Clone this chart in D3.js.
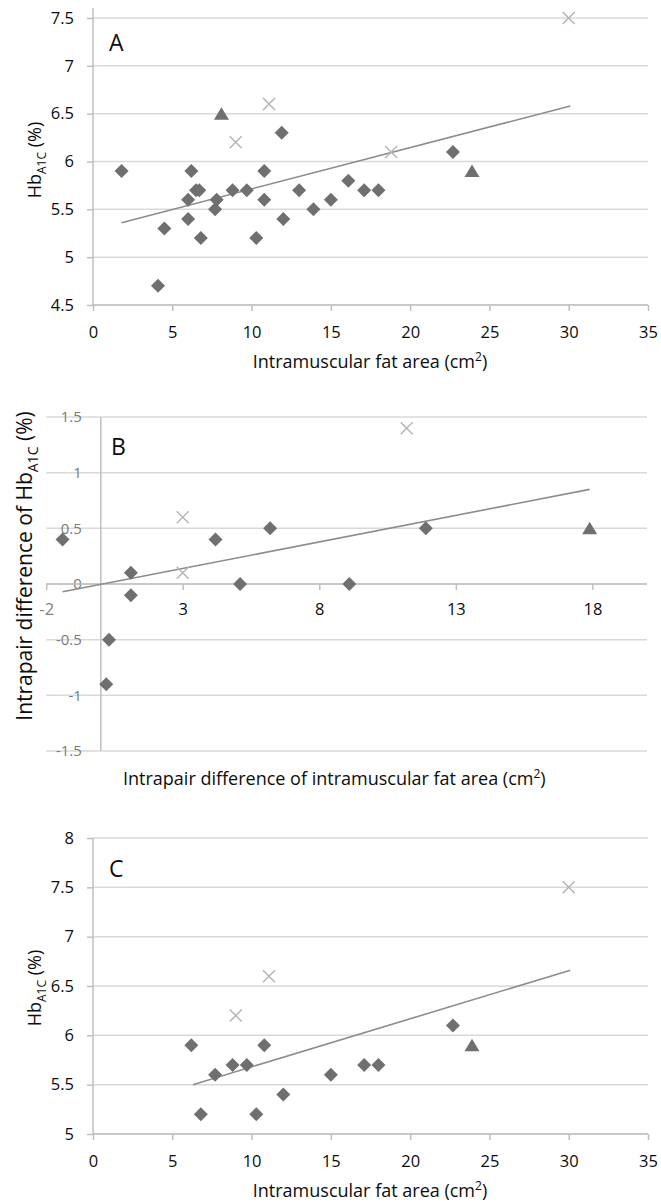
<!DOCTYPE html>
<html>
<head>
<meta charset="utf-8">
<script src="https://cdn.jsdelivr.net/npm/d3@7"></script>
<style>
  body { margin: 0; background: #fff; }
  svg { display: block; }
  text { font-family: "Open Sans", sans-serif; }
</style>
</head>
<body>
<svg width="661" height="1204"></svg>
<script>
// ---- data ----
const aDiamonds = [[1.8,5.9],[4.1,4.7],[4.5,5.3],[6.0,5.6],[6.0,5.4],[6.2,5.9],[6.5,5.7],[6.7,5.7],
  [6.8,5.2],[7.7,5.5],[7.8,5.6],[8.8,5.7],[9.7,5.7],[10.3,5.2],[10.8,5.9],[10.8,5.6],[11.9,6.3],
  [12.0,5.4],[13.0,5.7],[13.9,5.5],[15.0,5.6],[16.1,5.8],[17.1,5.7],[18.0,5.7],[22.7,6.1]];
const aTriangles = [[8.1,6.5],[23.9,5.9]];
const aCrosses = [[9.0,6.2],[11.1,6.6],[18.8,6.1],[30.0,7.5]];
const aTrend = [[1.8,5.36],[30.1,6.58]];

const bDiamonds = [[-1.4,0.4],[0.2,-0.9],[0.3,-0.5],[1.1,0.1],[1.1,-0.1],[4.2,0.4],[5.1,0.0],
  [6.2,0.5],[9.1,0.0],[11.9,0.5]];
const bTriangles = [[17.9,0.5]];
const bCrosses = [[3.0,0.6],[3.0,0.1],[11.2,1.4]];
const bTrend = [[-1.4,-0.07],[17.9,0.85]];

const cDiamonds = [[6.2,5.9],[6.8,5.2],[7.7,5.6],[8.8,5.7],[9.7,5.7],[10.3,5.2],[10.8,5.9],
  [12.0,5.4],[15.0,5.6],[17.1,5.7],[18.0,5.7],[22.7,6.1]];
const cTriangles = [[23.9,5.9]];
const cCrosses = [[9.0,6.2],[11.1,6.6],[30.0,7.5]];
const cTrend = [[6.3,5.5],[30.1,6.66]];

const fatTicks = [0, 5, 10, 15, 20, 25, 30, 35];
const hbTicksA = [4.5, 5, 5.5, 6, 6.5, 7, 7.5];
const hbTicksC = [5, 5.5, 6, 6.5, 7, 7.5, 8];
const diffXTicks = [-2, 3, 8, 13, 18];
const diffYTicks = [-1.5, -1, -0.5, 0, 0.5, 1, 1.5];

const svg = d3.select('svg');

const gridColor = '#d9d9d9';
const axisColor = '#bfbfbf';
const markColor = '#6f6f6f';
const crossColor = '#b3b3b3';
const trendColor = '#8c8c8c';

const diamondPath = 'M0,-7L7,0L0,7L-7,0Z';
const trianglePath = 'M0,-6.5L7.5,6L-7.5,6Z';
const crossPath = 'M-6,-6L6,6M-6,6L6,-6';

// plain hyphen minus like the original, not d3's unicode minus
const fmt = d => String(d);

function hbTitle(sel, prefix, size) {
  sel.append('tspan').text(prefix + 'Hb');
  sel.append('tspan').attr('font-size', size * 0.67).attr('dy', size * 0.28).text('A1C');
  sel.append('tspan').attr('dy', -size * 0.28).text(' (%)');
}

function fatTitle(sel, prefix) {
  sel.append('tspan').text(prefix + ' (cm');
  sel.append('tspan').attr('font-size', 12).attr('dy', -7).text('2');
  sel.append('tspan').attr('dy', 7).text(')');
}

function drawPanel(p) {
  const g = svg.append('g');
  const x = d3.scaleLinear().domain(p.xDomain).range([p.left, p.right]);
  const y = d3.scaleLinear().domain(p.yDomain).range([p.bottom, p.top]);
  const x0 = p.yAxisAt === undefined ? p.left : x(p.yAxisAt);
  const y0 = p.xAxisAt === undefined ? p.bottom : y(p.xAxisAt);

  // horizontal gridlines
  g.selectAll('.grid').data(p.yTicks).enter().append('line')
    .attr('class', 'grid')
    .attr('x1', p.gridLeft === undefined ? x0 : p.gridLeft)
    .attr('x2', p.right)
    .attr('y1', d => y(d)).attr('y2', d => y(d))
    .attr('stroke', gridColor).attr('stroke-width', 1.5);

  // y axis
  const yAxis = d3.axisLeft(y).tickValues(p.yTicks)
    .tickSize(p.yTickSize).tickPadding(p.yTickPad).tickFormat(fmt);
  const ya = g.append('g').attr('transform', `translate(${x0},0)`).call(yAxis);
  ya.select('.domain').remove();
  ya.selectAll('line').attr('stroke', axisColor).attr('stroke-width', 1.5);
  ya.selectAll('text').attr('font-size', p.yFont).attr('fill', p.yLabelColor)
    .attr('font-family', '"Open Sans", sans-serif');
  g.append('line')
    .attr('x1', x0).attr('x2', x0)
    .attr('y1', p.axisTop).attr('y2', p.bottom)
    .attr('stroke', axisColor).attr('stroke-width', 1.5);

  // x axis
  const xAxis = d3.axisBottom(x).tickValues(p.xTicks)
    .tickSize(6).tickPadding(p.xTickPad).tickFormat(fmt);
  const xa = g.append('g').attr('transform', `translate(0,${y0})`).call(xAxis);
  xa.select('.domain').remove();
  xa.selectAll('line').attr('stroke', axisColor).attr('stroke-width', 1.5);
  xa.selectAll('text').attr('font-size', 16.5)
    .attr('font-family', '"Open Sans", sans-serif')
    .attr('fill', d => (p.grayTick !== undefined && d === p.grayTick) ? '#808080' : '#0d0d0d');
  g.append('line')
    .attr('x1', p.gridLeft === undefined ? x0 : p.gridLeft).attr('x2', p.right)
    .attr('y1', y0).attr('y2', y0)
    .attr('stroke', axisColor).attr('stroke-width', 1.5);

  // trend line
  g.append('path').datum(p.trend)
    .attr('d', d3.line().x(d => x(d[0])).y(d => y(d[1])))
    .attr('fill', 'none').attr('stroke', trendColor).attr('stroke-width', 1.6);

  // markers
  g.selectAll('.cross').data(p.crosses).enter().append('path')
    .attr('class', 'cross').attr('d', crossPath)
    .attr('transform', d => `translate(${x(d[0])},${y(d[1])})`)
    .attr('stroke', crossColor).attr('stroke-width', 1.4).attr('fill', 'none');
  g.selectAll('.diamond').data(p.diamonds).enter().append('path')
    .attr('class', 'diamond').attr('d', diamondPath)
    .attr('transform', d => `translate(${x(d[0])},${y(d[1])})`)
    .attr('fill', markColor);
  g.selectAll('.tri').data(p.triangles).enter().append('path')
    .attr('class', 'tri').attr('d', trianglePath)
    .attr('transform', d => `translate(${x(d[0])},${y(d[1])})`)
    .attr('fill', markColor);

  // panel letter
  g.append('text').attr('x', p.letterX).attr('y', p.letterY)
    .attr('font-size', 23).attr('fill', '#0d0d0d').text(p.letter);

  // axis titles
  const xt = g.append('text').attr('x', p.xTitleX).attr('y', p.xTitleY)
    .attr('text-anchor', p.xTitleAnchor).attr('font-size', 18).attr('fill', '#0d0d0d');
  fatTitle(xt, p.xTitle);
  const yt = g.append('text')
    .attr('transform', `translate(${p.yTitleX},${p.yTitleY}) rotate(-90)`)
    .attr('text-anchor', 'middle').attr('font-size', p.yTitleSize).attr('fill', '#0d0d0d');
  hbTitle(yt, p.yTitle, p.yTitleSize);
}

drawPanel({
  letter: 'A', letterX: 109, letterY: 51,
  xDomain: [0, 35], yDomain: [4.5, 7.5],
  left: 93, right: 648, top: 18, bottom: 305, axisTop: 8,
  xTicks: fatTicks, yTicks: hbTicksA,
  yTickSize: 6, yTickPad: 13, yFont: 16.5, yLabelColor: '#0d0d0d', xTickPad: 15,
  diamonds: aDiamonds, triangles: aTriangles, crosses: aCrosses, trend: aTrend,
  xTitle: 'Intramuscular fat area', xTitleX: 370, xTitleY: 368, xTitleAnchor: 'middle',
  yTitle: '', yTitleSize: 18, yTitleX: 41, yTitleY: 160
});

drawPanel({
  letter: 'B', letterX: 111, letterY: 455,
  xDomain: [-2, 20], yDomain: [-1.5, 1.5],
  left: 46.2, right: 647, top: 417, bottom: 751, axisTop: 417,
  yAxisAt: 0, xAxisAt: 0, gridLeft: 46.2, grayTick: -2,
  xTicks: diffXTicks, yTicks: diffYTicks,
  yTickSize: 0, yTickPad: 19, yFont: 15, yLabelColor: '#7a7a7a', xTickPad: 13,
  diamonds: bDiamonds, triangles: bTriangles, crosses: bCrosses, trend: bTrend,
  xTitle: 'Intrapair difference of intramuscular fat area', xTitleX: 123, xTitleY: 785,
  xTitleAnchor: 'start',
  yTitle: 'Intrapair difference of ', yTitleSize: 21, yTitleX: 32, yTitleY: 566
});

drawPanel({
  letter: 'C', letterX: 109, letterY: 877,
  xDomain: [0, 35], yDomain: [5, 8],
  left: 93, right: 648, top: 838, bottom: 1134, axisTop: 838,
  xTicks: fatTicks, yTicks: hbTicksC,
  yTickSize: 6, yTickPad: 13, yFont: 16.5, yLabelColor: '#0d0d0d', xTickPad: 15,
  diamonds: cDiamonds, triangles: cTriangles, crosses: cCrosses, trend: cTrend,
  xTitle: 'Intramuscular fat area', xTitleX: 370, xTitleY: 1197, xTitleAnchor: 'middle',
  yTitle: '', yTitleSize: 18, yTitleX: 41, yTitleY: 988
});
</script>
</body>
</html>
